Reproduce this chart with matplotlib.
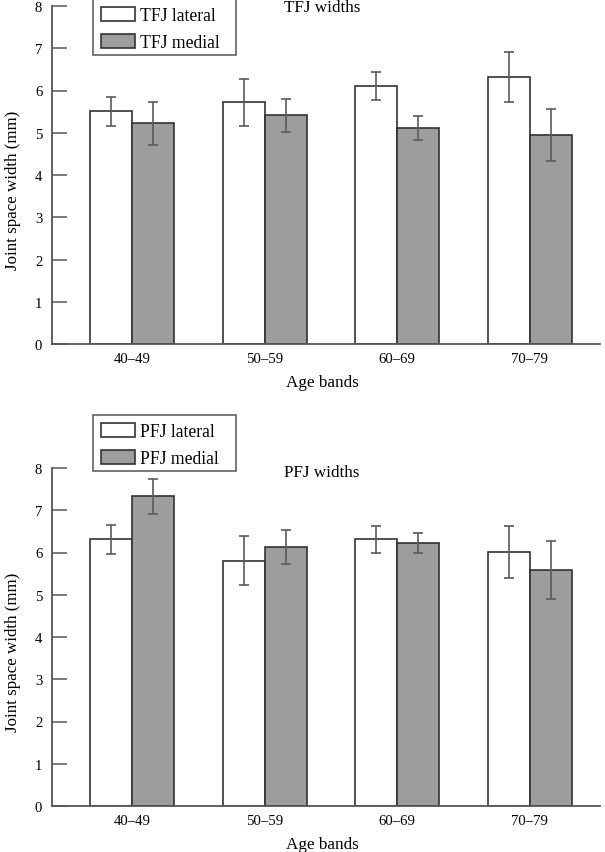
import matplotlib
matplotlib.use("Agg")
import matplotlib.pyplot as plt
import numpy as np
from matplotlib.patches import Patch, Rectangle

age_bands = ["40\u201349", "50\u201359", "60\u201369", "70\u201379"]

tfj_lateral = [5.51, 5.72, 6.11, 6.31]
tfj_lateral_err = [0.34, 0.55, 0.33, 0.59]
tfj_medial = [5.22, 5.41, 5.11, 4.95]
tfj_medial_err = [0.50, 0.40, 0.28, 0.61]

pfj_lateral = [6.31, 5.81, 6.31, 6.01]
pfj_lateral_err = [0.34, 0.57, 0.32, 0.62]
pfj_medial = [7.33, 6.13, 6.23, 5.59]
pfj_medial_err = [0.42, 0.40, 0.24, 0.68]

y_ticks = [0, 1, 2, 3, 4, 5, 6, 7, 8]

plt.rcParams['font.family'] = ['Liberation Serif', 'DejaVu Serif']

W, H = 605, 853
fig = plt.figure(figsize=(W / 100, H / 100), dpi=100)

def px_axes(l, t, r, b):
    return fig.add_axes([l / W, 1 - b / H, (r - l) / W, (b - t) / H])

ax1 = px_axes(52, 7, 600, 345)
ax2 = px_axes(52, 469, 600, 807)

white = "#ffffff"
gray = "#9c9d9c"
edge = "#333333"
errc = "#5a5a5a"
axc = "#555555"

def draw(ax, lat, lat_e, med, med_e, names, title, title_y, leg_top_px):
    x = np.arange(len(age_bands))
    w = 0.317
    ekw = dict(ecolor=errc, elinewidth=1.2, capsize=3.8, capthick=1.2)
    ax.bar(x - w / 2, lat, w, color=white, edgecolor=edge, linewidth=1.2,
           yerr=lat_e, error_kw=ekw)
    ax.bar(x + w / 2, med, w, color=gray, edgecolor=edge, linewidth=1.2,
           yerr=med_e, error_kw=ekw)
    ax.set_xlim(-0.603, 3.53)
    ax.set_ylim(0, 8)
    ax.set_yticks(y_ticks)
    ax.set_xticks(x)
    ax.set_xticklabels(age_bands, fontsize=10.6)
    ax.tick_params(axis='x', length=0, pad=6)
    ax.tick_params(axis='y', direction='in', length=11, width=1.1, color=axc,
                   labelsize=10.6, pad=7)
    for s in ["top", "right"]:
        ax.spines[s].set_visible(False)
    for s in ["left", "bottom"]:
        ax.spines[s].set_color(axc)
        ax.spines[s].set_linewidth(1.3)
    ax.set_xlabel("Age bands", fontsize=12.3)
    ax.xaxis.set_label_coords(0.494, -0.09)
    ax.set_ylabel("Joint space width (mm)", fontsize=12.2)
    ax.yaxis.set_label_coords(-0.056, 0.456)
    ax.text(0.493, title_y, title, transform=ax.transAxes, fontsize=12.3,
            ha="center", va="center")
    handles = [Patch(facecolor=white, edgecolor=edge, linewidth=1.2, label=names[0]),
               Patch(facecolor=gray, edgecolor=edge, linewidth=1.2, label=names[1])]
    fig.legend(handles=handles, loc="upper left",
               bbox_to_anchor=(94 / W, 1 - (leg_top_px + 1) / H),
               bbox_transform=fig.transFigure, fontsize=12.7,
               frameon=False, handlelength=1.9, handleheight=0.85,
               borderpad=0.4, labelspacing=0.55, handletextpad=0.3,
               borderaxespad=0)
    fig.patches.append(Rectangle((93 / W, 1 - (leg_top_px + 56) / H), 143 / W, 56 / H,
                                 transform=fig.transFigure, fill=False,
                                 edgecolor=axc, linewidth=1.1))

draw(ax1, tfj_lateral, tfj_lateral_err, tfj_medial, tfj_medial_err,
     ["TFJ lateral", "TFJ medial"], "TFJ widths", 0.997, 0)
draw(ax2, pfj_lateral, pfj_lateral_err, pfj_medial, pfj_medial_err,
     ["PFJ lateral", "PFJ medial"], "PFJ widths", 0.989, 416)

fig.savefig("out.png", dpi=100)
